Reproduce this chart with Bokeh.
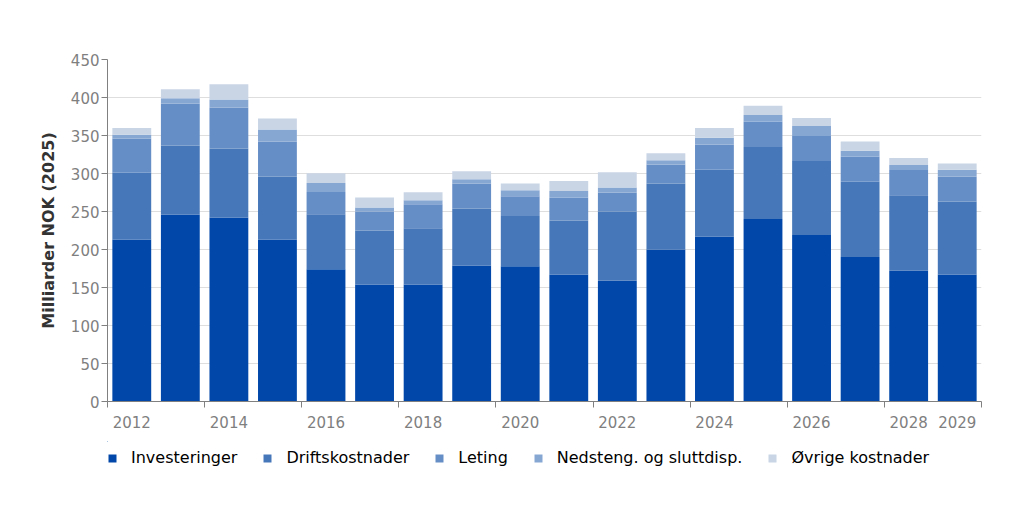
from bokeh.plotting import figure
from bokeh.models import FixedTicker, Legend, LegendItem, ColumnDataSource
from bokeh.layouts import column
from bokeh.embed import file_html
from bokeh.resources import INLINE

years = list(range(2012, 2030))
investeringer = [213, 246, 242, 213, 174, 154, 154, 179, 178, 167, 159, 200, 217, 240, 219, 190, 172.5, 167]
driftskostnader = [88, 91, 91, 83, 72.5, 71, 74, 75, 66, 71, 91, 87, 88, 95, 97.5, 99, 99, 96]
leting = [45, 55, 54, 46, 29, 25, 31.5, 33, 26, 30, 25, 25, 33, 33, 33, 33, 33, 33]
nedsteng = [5, 7, 10.5, 16, 12, 5.3, 5.3, 5.3, 8, 9, 6.5, 5.3, 9, 9, 13, 8, 6.6, 9]
ovrige = [9, 12, 20, 14.5, 12.7, 13.2, 10.6, 10.5, 9, 13, 20, 9.2, 13, 12, 10.5, 12, 9.2, 8]

series_names = ["Investeringer", "Driftskostnader", "Leting", "Nedsteng. og sluttdisp.", "Øvrige kostnader"]
keys = ["inv", "drift", "let", "ned", "ovr"]
colors = ["#0047a9", "#4677b8", "#668ec6", "#87a7d3", "#c9d5e5"]

x_label_years = [2012, 2014, 2016, 2018, 2020, 2022, 2024, 2026, 2028, 2029]
x_boundaries = [2011.5, 2013.5, 2015.5, 2017.5, 2019.5, 2021.5, 2023.5, 2025.5, 2027.5, 2029.5]
y_ticks = list(range(0, 451, 50))

source = ColumnDataSource(dict(x=years, inv=investeringer, drift=driftskostnader,
                               let=leting, ned=nedsteng, ovr=ovrige))

p = figure(width=1008, height=441, output_backend="svg", toolbar_location=None,
           x_range=(2011.5, 2029.5), y_range=(0, 450),
           min_border_left=107, min_border_right=27, min_border_top=59, min_border_bottom=40)

renderers = p.vbar_stack(keys, x="x", width=0.8, color=colors, source=source, line_width=0)

p.outline_line_color = None
p.xgrid.grid_line_color = None
p.ygrid.grid_line_color = "#dedede"
p.ygrid.ticker = FixedTicker(ticks=y_ticks)

p.yaxis.ticker = FixedTicker(ticks=y_ticks)
p.yaxis.axis_label = "Milliarder NOK (2025)"
p.yaxis.axis_label_text_font = "DejaVu Sans"
p.yaxis.axis_label_text_font_style = "bold"
p.yaxis.axis_label_text_font_size = "16px"
p.yaxis.axis_label_text_color = "#333333"
p.yaxis.axis_label_standoff = 10
p.yaxis.major_label_text_font = "DejaVu Sans"
p.yaxis.major_label_text_font_size = "15px"
p.yaxis.major_label_text_color = "#7f7f7f"
p.yaxis.axis_line_color = "#808080"
p.yaxis.major_tick_line_color = "#808080"
p.yaxis.major_tick_out = 6
p.yaxis.major_tick_in = 0
p.yaxis.minor_tick_line_color = None
p.yaxis.major_label_standoff = 2

p.xaxis.ticker = FixedTicker(ticks=x_label_years, minor_ticks=x_boundaries)
p.xaxis.major_label_text_font = "DejaVu Sans"
p.xaxis.major_label_text_font_size = "15px"
p.xaxis.major_label_text_color = "#7f7f7f"
p.xaxis.axis_line_color = "#808080"
p.xaxis.major_tick_line_color = None
p.xaxis.major_tick_out = 0
p.xaxis.major_tick_in = 0
p.xaxis.minor_tick_line_color = "#808080"
p.xaxis.minor_tick_out = 6
p.xaxis.minor_tick_in = 0
p.xaxis.major_label_standoff = 8

# Legend strip below the chart; its renderers sit outside the strip's visible range
q = figure(width=1008, height=50, output_backend="svg", toolbar_location=None,
           x_range=(3000, 3001), y_range=(-2, -1), x_axis_location=None, y_axis_location=None,
           min_border_left=0, min_border_right=0, min_border_top=0, min_border_bottom=0)
q.outline_line_color = None
q.xgrid.grid_line_color = None
q.ygrid.grid_line_color = None
swatches = q.vbar_stack(keys, x="x", width=0.8, fill_color=colors, line_color=None, source=source)

items = [LegendItem(label=n, renderers=[r]) for n, r in zip(series_names, swatches)]
legend = Legend(items=items, orientation="horizontal", location=(0, 24),
                label_text_font="DejaVu Sans", label_text_font_size="16px",
                label_text_color="#000000",
                glyph_width=10, glyph_height=10, label_standoff=14, spacing=25,
                border_line_color=None, background_fill_alpha=0,
                margin=0, padding=0)
q.add_layout(legend, "center")

layout = column(p, q, spacing=0)
open("out.html", "w").write(file_html(layout, INLINE))
